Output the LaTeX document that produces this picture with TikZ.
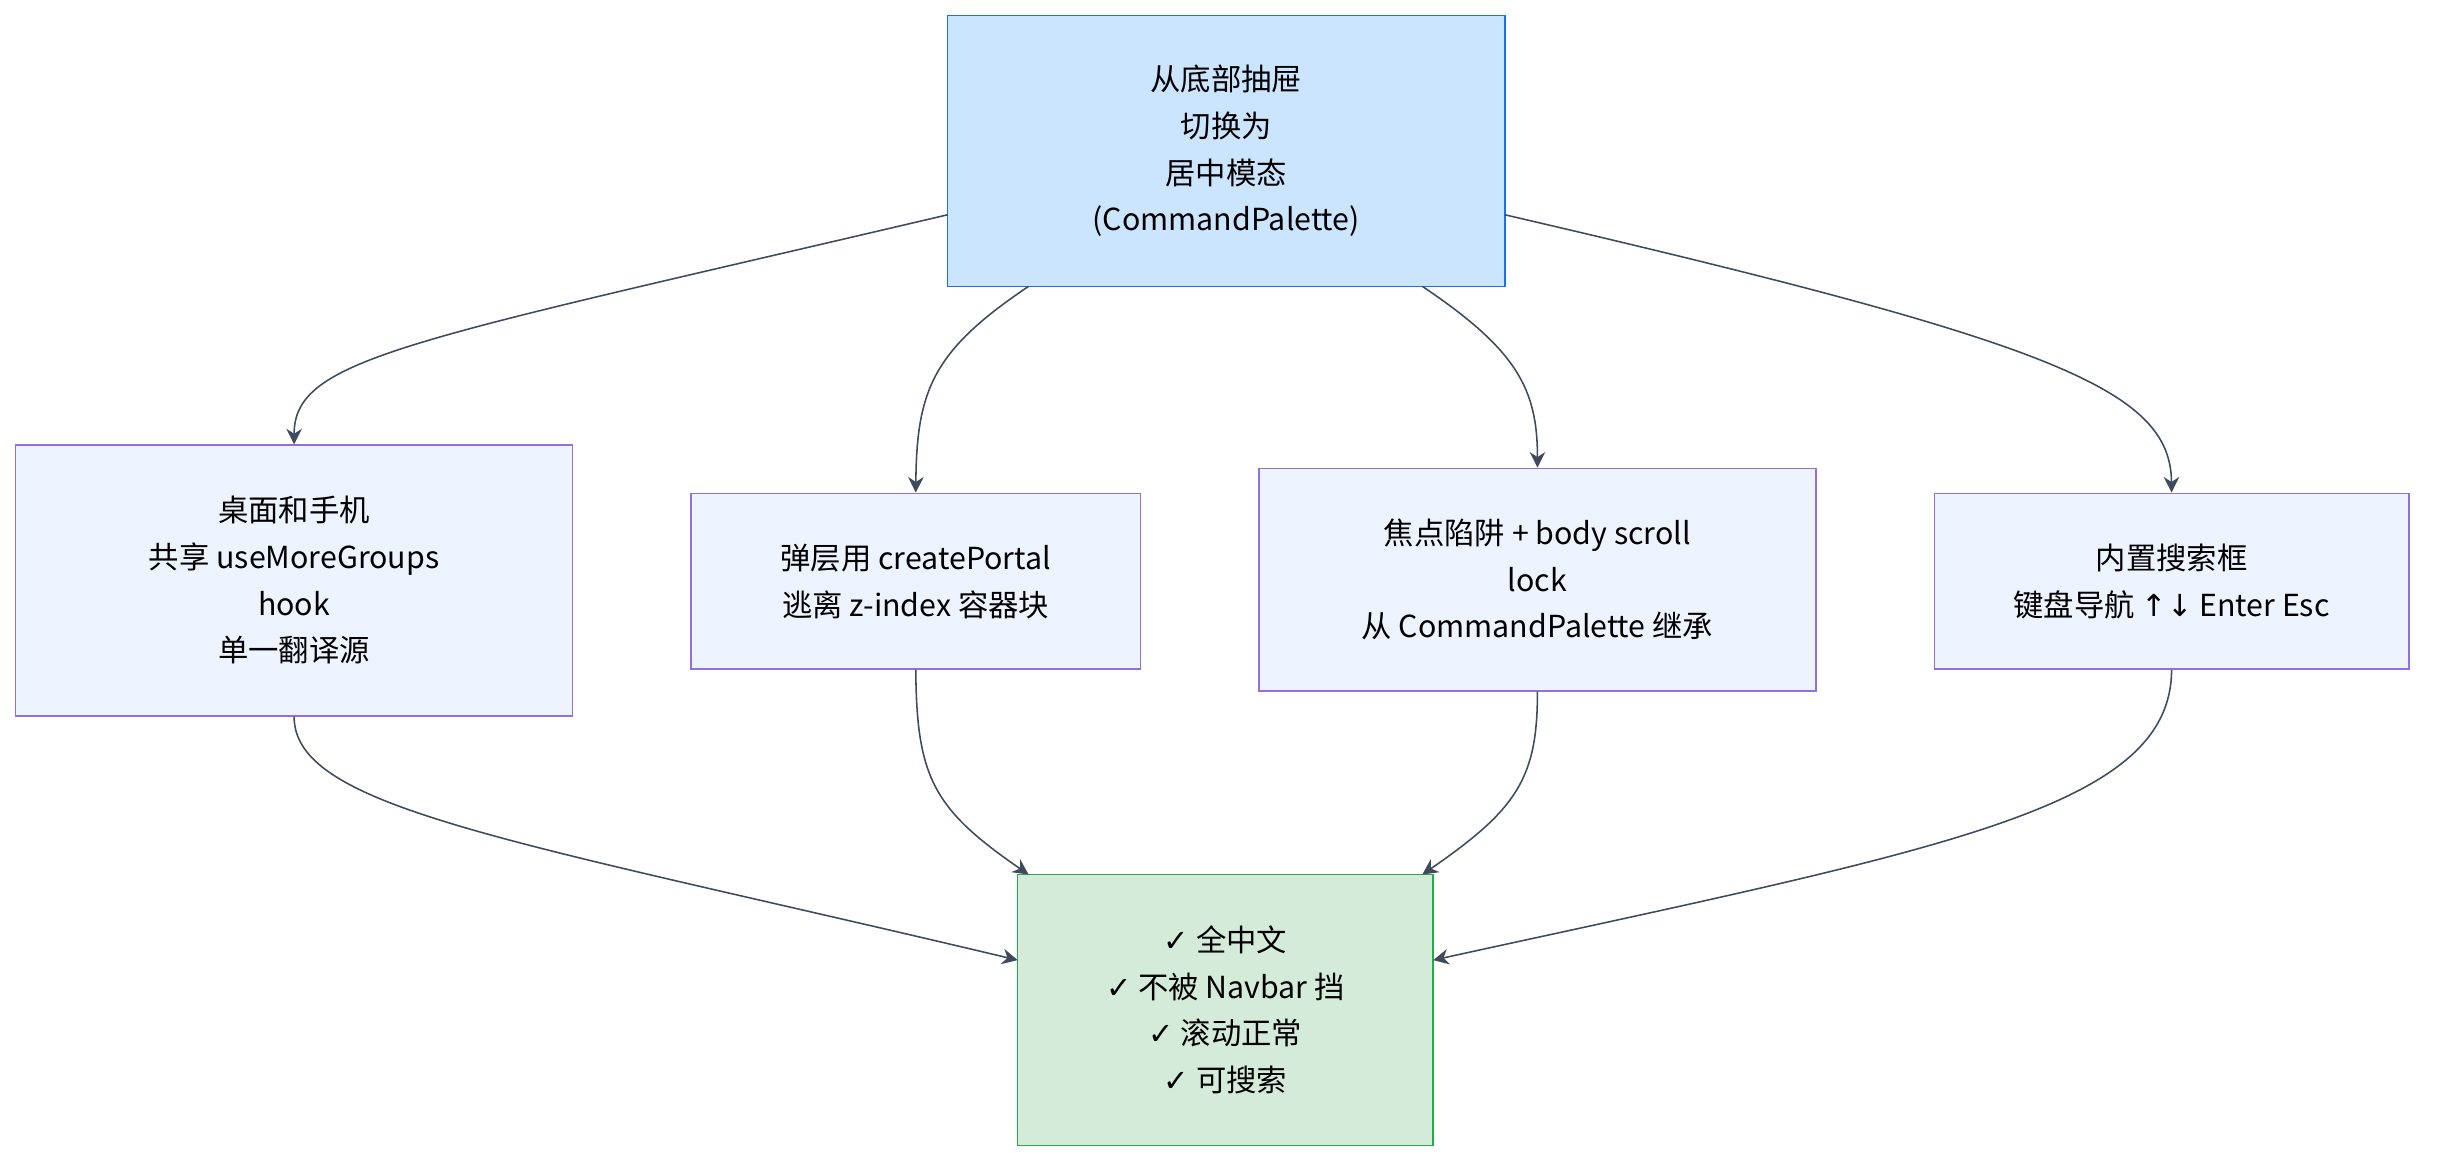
\documentclass[tikz,border=0pt]{standalone}
\usepackage{fontspec}
\setmainfont{Noto Sans CJK SC}
\newfontfamily\sym{DejaVu Sans}
\usetikzlibrary{arrows.meta}
\definecolor{topf}{HTML}{CCE5FF}\definecolor{topd}{HTML}{1F6FEB}
\definecolor{midf}{HTML}{EEF4FF}\definecolor{midd}{HTML}{9370DB}
\definecolor{botf}{HTML}{D5EBD9}\definecolor{botd}{HTML}{2AA84A}
\definecolor{edge}{HTML}{3F4A5C}
\begin{document}
\begin{tikzpicture}[x=1pt,y=-1pt,
 box/.style={draw=midd,fill=midf,line width=1pt,align=center,font=\fontsize{19.5}{30}\selectfont,inner sep=0pt},
 e/.style={draw=edge,line width=1pt,-{Stealth[length=10pt,width=10pt]}}]
\useasboundingbox (0,0) rectangle (1568,750);
\node[box,draw=topd,fill=topf,minimum width=358pt,minimum height=174pt] (t) at (788,97) {从底部抽屉\\切换为\\居中模态\\(CommandPalette)};
\node[box,minimum width=358pt,minimum height=174pt] (a) at (189,373) {桌面和手机\\共享 useMoreGroups\\hook\\单一翻译源};
\node[box,minimum width=289pt,minimum height=113pt] (b) at (588.5,373.5) {弹层用 createPortal\\逃离 z-index 容器块};
\node[box,minimum width=358pt,minimum height=143pt] (c) at (988,372.5) {焦点陷阱 + body scroll\\lock\\从 CommandPalette 继承};
\node[box,minimum width=305pt,minimum height=113pt] (d) at (1395.5,373.5) {内置搜索框\\键盘导航 {\sym ↑↓} Enter Esc};
\node[box,draw=botd,fill=botf,minimum width=267pt,minimum height=174pt] (z) at (787.5,649) {{\sym ✓} 全中文\\{\sym ✓} 不被 Navbar 挡\\{\sym ✓} 滚动正常\\{\sym ✓} 可搜索};
\coordinate (t1) at (609,138); \coordinate (t2) at (661,184);
\coordinate (t3) at (914,184); \coordinate (t4) at (967,138);
\coordinate (z1) at (654,617); \coordinate (z2) at (661,562);
\coordinate (z3) at (914,562); \coordinate (z4) at (921,617);
\draw[e] (t1) .. controls (260,220) and (189,230) .. (a.north);
\draw[e] (t2) .. controls (600,225) and (589,250) .. (b.north);
\draw[e] (t3) .. controls (975,225) and (988,250) .. (c.north);
\draw[e] (t4) .. controls (1320,220) and (1395,250) .. (d.north);
\draw[e] (a.south) .. controls (189,520) and (330,540) .. (z1);
\draw[e] (b.south) .. controls (589,500) and (600,520) .. (z2);
\draw[e] (c.south) .. controls (988,500) and (975,520) .. (z3);
\draw[e] (d.south) .. controls (1395,520) and (1250,545) .. (z4);
\end{tikzpicture}
\end{document}
